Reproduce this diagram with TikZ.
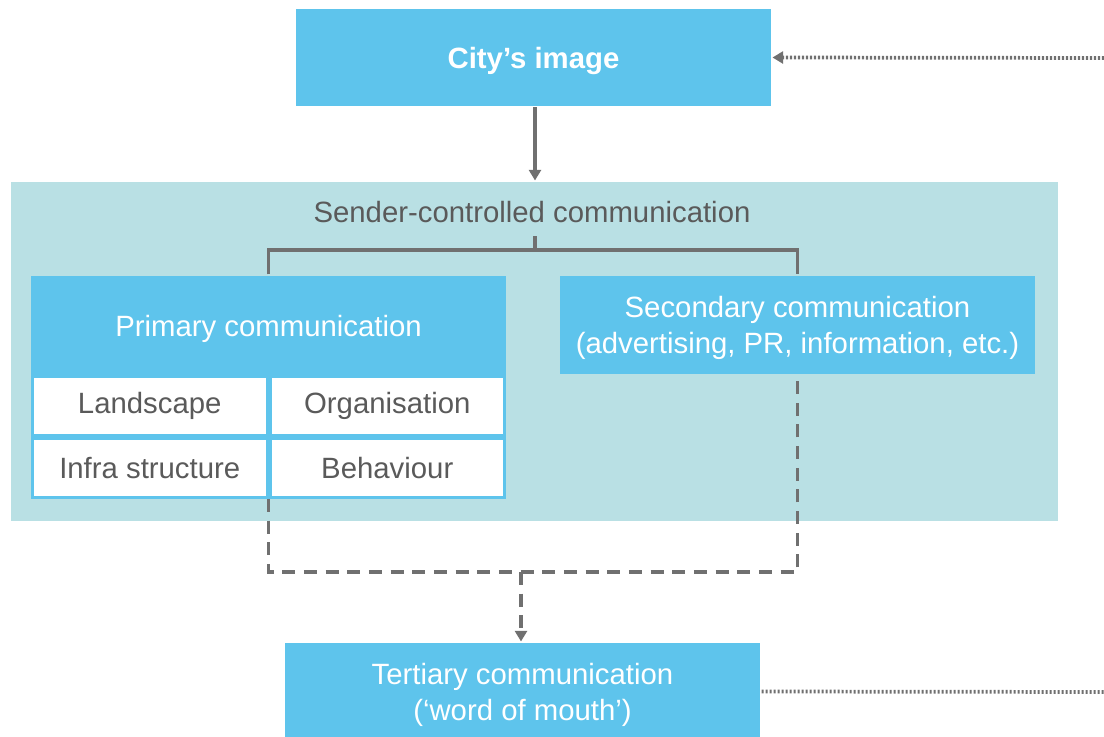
\documentclass[tikz,border=0pt]{standalone}
\usepackage{fontspec}
\setmainfont{Liberation Sans}
\usepackage{tikz}
\usetikzlibrary{positioning,arrows.meta}
\definecolor{skyblue}{HTML}{5EC4EC}
\definecolor{paleteal}{HTML}{B9E0E4}
\definecolor{linegray}{HTML}{707070}
\definecolor{textgray}{HTML}{5A5A5A}

\begin{document}
\begin{tikzpicture}[x=0.75pt,y=-0.75pt,node distance=0pt,line width=2.25pt,>={Triangle[width=9pt,length=8pt]}]
        \tikzstyle{bluebox}=[rectangle, fill=skyblue, text=white, inner sep=0pt, text depth=0pt, minimum width=356.25pt, align=center, font=\fontsize{22}{27}\selectfont]
        \tikzstyle{cell}=[rectangle, fill=white, draw=skyblue, text=textgray, inner sep=0pt, minimum width=175.9pt, minimum height=44.25pt, font=\fontsize{22}{27}\selectfont]
        \tikzstyle{link}=[draw=linegray, line width=2.8pt]
        \tikzstyle{dashlink}=[link, dash pattern=on 9.75pt off 6.5pt]
        \tikzstyle{dotlink}=[link, dash pattern=on 1.6pt off 1.4pt]
        \useasboundingbox (0,0) rectangle (1104,737);

        \node[rectangle, fill=paleteal, minimum width=785.25pt, minimum height=254.25pt] (Region) at (534.5,351.5) {};
        \node[bluebox, minimum height=72.75pt, font=\fontsize{22}{27}\selectfont\bfseries] (City) at (533.5,57.5) {City’s image};
        \node[text=textgray, font=\fontsize{22}{27}\selectfont] (Sender) at (532,212) {Sender-controlled communication};
        \node[bluebox, minimum height=74.25pt] (Primary) at (268.5,325.5) {Primary communication};
        \node[cell] (Land) at (149.75,406) {Landscape};
        \node[cell] (Orga) [right=0pt of Land] {Organisation};
        \node[cell] (Infra) [below=0pt of Land] {Infra structure};
        \node[cell] (Behav) [right=0pt of Infra] {Behaviour};
        \node[bluebox, minimum height=73.5pt] (Secondary) at (797.5,325) {Secondary communication\\(advertising, PR, information, etc.)};
        \node[bluebox, minimum height=72.75pt] (Tertiary) at (522.5,691.5) {Tertiary communication\\(‘word of mouth’)};

        \coordinate (Feedback) at (1104,58);
        \coordinate (Outward) at (1104,692);
        \coordinate (Fork) at (535,250);
        \coordinate (Stub) at (535,236);
        \coordinate (Join) at (521,572);

        \draw[dotlink,->] (Feedback) -- (City.east);
        \draw[link,->] (City.south -| Fork) -- (Fork |- Region.north);
        \draw[link] (Primary.north) |- (Fork) -| (Secondary.north);
        \draw[link] (Fork) -- (Stub);
        \draw[dashlink] (Infra.south east) |- (Join) -| (Secondary.south);
        \draw[dashlink,->] (Join) -- (Join |- Tertiary.north);
        \draw[dotlink] (Tertiary.east) -- (Outward);
      \end{tikzpicture}
\end{document}
